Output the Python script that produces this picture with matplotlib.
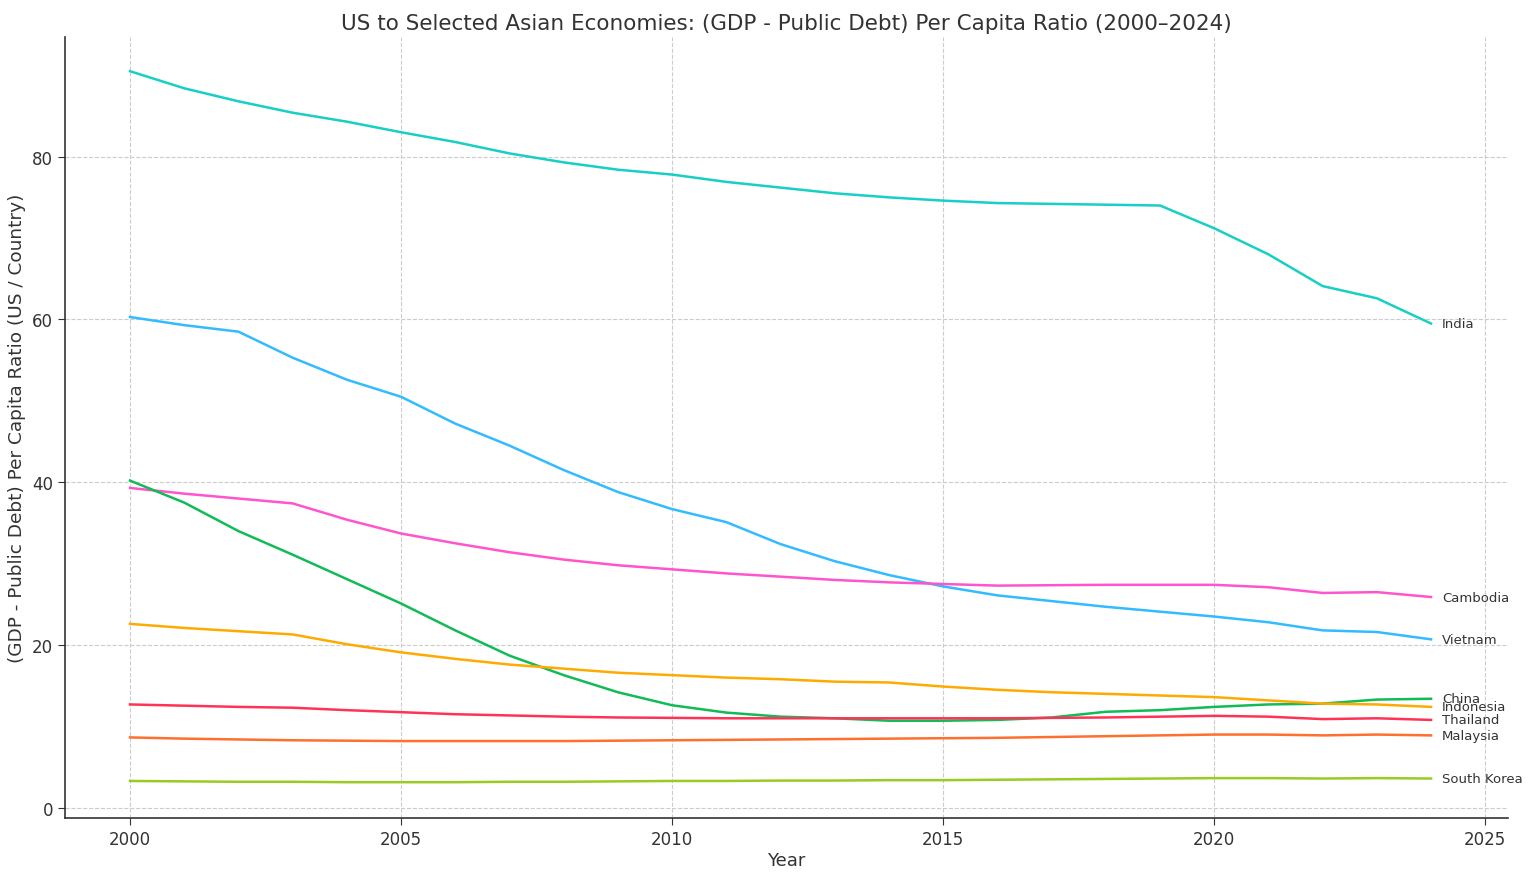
import matplotlib
matplotlib.use("Agg")
import matplotlib.pyplot as plt

years = list(range(2000, 2025))

india = [90.5, 88.4, 86.8, 85.4, 84.3, 83.0, 81.8, 80.4, 79.3, 78.4, 77.8, 76.9, 76.2,
         75.5, 75.0, 74.6, 74.3, 74.2, 74.1, 74.0, 71.2, 68.0, 64.1, 62.6, 59.5]
vietnam = [60.3, 59.3, 58.5, 55.3, 52.6, 50.5, 47.2, 44.5, 41.5, 38.8, 36.7, 35.1, 32.4,
           30.3, 28.6, 27.2, 26.1, 25.4, 24.7, 24.1, 23.5, 22.8, 21.8, 21.6, 20.7]
cambodia = [39.3, 38.6, 38.0, 37.4, 35.4, 33.7, 32.5, 31.4, 30.5, 29.8, 29.3, 28.8, 28.4,
            28.0, 27.7, 27.5, 27.3, 27.35, 27.4, 27.4, 27.4, 27.1, 26.4, 26.5, 25.9]
china = [40.2, 37.5, 34.0, 31.1, 28.1, 25.1, 21.8, 18.7, 16.3, 14.2, 12.6, 11.7, 11.2,
         11.0, 10.7, 10.7, 10.8, 11.1, 11.8, 12.0, 12.4, 12.7, 12.8, 13.3, 13.4]
indonesia = [22.6, 22.1, 21.7, 21.3, 20.1, 19.1, 18.3, 17.6, 17.1, 16.6, 16.3, 16.0, 15.8,
             15.5, 15.4, 14.9, 14.5, 14.2, 14.0, 13.8, 13.6, 13.2, 12.8, 12.7, 12.4]
thailand = [12.7, 12.55, 12.4, 12.3, 12.0, 11.75, 11.5, 11.35, 11.2, 11.1, 11.05, 11.0, 11.0,
            11.0, 11.0, 11.0, 11.0, 11.05, 11.1, 11.2, 11.3, 11.2, 10.9, 11.0, 10.8]
malaysia = [8.65, 8.5, 8.4, 8.3, 8.25, 8.2, 8.2, 8.2, 8.2, 8.25, 8.3, 8.35, 8.4,
            8.45, 8.5, 8.55, 8.6, 8.7, 8.8, 8.9, 9.0, 9.0, 8.9, 9.0, 8.9]
south_korea = [3.3, 3.25, 3.2, 3.2, 3.15, 3.15, 3.15, 3.2, 3.2, 3.25, 3.3, 3.3, 3.35,
               3.35, 3.4, 3.4, 3.45, 3.5, 3.55, 3.6, 3.65, 3.65, 3.6, 3.65, 3.6]

series = [
    ("India", india, "#17cfc4"),
    ("Vietnam", vietnam, "#33bbff"),
    ("Cambodia", cambodia, "#ff55cc"),
    ("China", china, "#11bb55"),
    ("Indonesia", indonesia, "#ffaa00"),
    ("Thailand", thailand, "#ff3355"),
    ("Malaysia", malaysia, "#ff6f2e"),
    ("South Korea", south_korea, "#99cc22"),
]

text_color = "#333333"

fig = plt.figure(figsize=(15.36, 8.78), dpi=100)
ax = fig.add_axes([0.0423, 0.0672, 0.9395, 0.8895])

for name, vals, color in series:
    ax.plot(years, vals, color=color, linewidth=1.8)
    ax.text(years[-1] + 0.2, vals[-1], name, fontsize=9.5, color=text_color,
            va="center", ha="left")

ax.set_xlim(1998.8, 2025.42)
ax.set_ylim(-1.25, 94.7)
ax.set_xticks([2000, 2005, 2010, 2015, 2020, 2025])
ax.set_yticks([0, 20, 40, 60, 80])

ax.grid(True, linestyle="--", color="#cccccc", linewidth=0.8)
ax.set_axisbelow(True)
for side in ["top", "right"]:
    ax.spines[side].set_visible(False)
for side in ["left", "bottom"]:
    ax.spines[side].set_color(text_color)
    ax.spines[side].set_linewidth(1.2)
ax.tick_params(colors=text_color, labelsize=12, length=5)

ax.set_xlabel("Year", fontsize=13, color=text_color, labelpad=2)
ax.set_ylabel("(GDP - Public Debt) Per Capita Ratio (US / Country)", fontsize=13.3,
              color=text_color)
ax.set_title("US to Selected Asian Economies: (GDP - Public Debt) Per Capita Ratio (2000\u20132024)",
             fontsize=15.5, color=text_color, pad=6)

fig.savefig("out.png", dpi=100)
